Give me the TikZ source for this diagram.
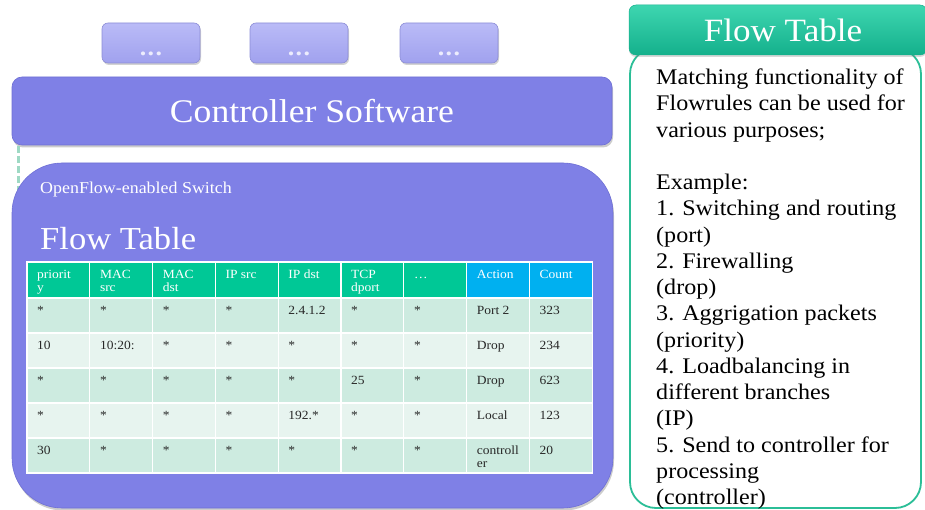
\documentclass[tikz,border=0pt]{standalone}
\usepackage{fontspec}
\setmainfont[FakeStretch=1.08]{Liberation Serif}
\usetikzlibrary{shadows}

\definecolor{boxblue}{RGB}{127,128,230}
\definecolor{boxedge}{RGB}{110,111,212}
\definecolor{apptop}{RGB}{186,187,247}
\definecolor{appbot}{RGB}{160,161,238}
\definecolor{appedge}{RGB}{140,141,214}
\definecolor{appdots}{RGB}{236,236,253}
\definecolor{hdrgreen}{RGB}{0,200,150}
\definecolor{hdrblue}{RGB}{0,176,240}
\definecolor{rowdark}{RGB}{205,235,224}
\definecolor{rowlight}{RGB}{231,244,239}
\definecolor{celltext}{RGB}{40,40,40}
\definecolor{panelgreen}{RGB}{43,190,151}
\definecolor{headtop}{RGB}{62,214,176}
\definecolor{headbot}{RGB}{20,176,140}
\definecolor{linkgreen}{RGB}{158,217,196}

\tikzset{
  appbox/.style={draw=appedge, line width=0.6pt, top color=apptop, bottom color=appbot,
    rounded corners=6pt, minimum width=98pt, minimum height=40pt,
    drop shadow={shadow xshift=1pt, shadow yshift=-2pt, opacity=0.35}},
  dotslabel/.style={text=appdots, font=\fontsize{24}{26}\selectfont\bfseries, inner sep=0pt},
  ctrlbox/.style={draw=boxedge, line width=0.6pt, fill=boxblue, rounded corners=10pt,
    minimum width=600pt, minimum height=68pt, text=white,
    font=\fontsize{33}{38}\selectfont,
    drop shadow={shadow xshift=1pt, shadow yshift=-2.5pt, opacity=0.4}},
  switchbox/.style={draw=boxedge, line width=0.6pt, fill=boxblue, rounded corners=50pt,
    minimum width=601pt, minimum height=345pt,
    drop shadow={shadow xshift=1pt, shadow yshift=-2.5pt, opacity=0.4}},
  link/.style={draw=linkgreen, line width=3pt, dash pattern=on 7pt off 3pt},
  cellbox/.style={draw=white, line width=1.2pt},
  celltxt/.style={anchor=north west, inner sep=0pt, align=left,
    font=\fontsize{12.5}{13}\selectfont},
  panelbody/.style={draw=panelgreen, line width=1.8pt, fill=white, rounded corners=26pt,
    minimum width=291pt, minimum height=460pt},
  panelhead/.style={top color=headtop, bottom color=headbot, draw=headbot, line width=0.5pt,
    rounded corners=7pt, minimum width=298pt, minimum height=50pt, text=white,
    font=\fontsize{32.5}{34}\selectfont,
    drop shadow={shadow xshift=0pt, shadow yshift=-2pt, opacity=0.3}},
  paneltxt/.style={anchor=north west, inner sep=0pt, align=left,
    font=\fontsize{22.3}{26.25}\selectfont}
}

\begin{document}
\begin{tikzpicture}[x=1pt, y=-1pt]
\useasboundingbox (0,0) rectangle (925,510);

% applications on top of the controller
\node[appbox] (app1) at (151,43) {};
\node[appbox] (app2) at (299,43) {};
\node[appbox] (app3) at (449,43) {};
\foreach \a in {1,2,3}
  \node[dotslabel, anchor=base] (dots\a) at ([yshift=8pt]app\a.south) {.\kern1.5pt.\kern1.5pt.};

% controller
\node[ctrlbox] (ctrl) at (312,111) {Controller Software};

% secure channel to the switch
\coordinate (chtop) at (18,146);
\coordinate (chbot) at (18,190);
\draw[link] (chtop) -- (chbot);

% switch
\node[switchbox] (switch) at (312.5,335.5) {};
\node[anchor=base west, inner sep=0pt, text=white, font=\fontsize{16.6}{18}\selectfont]
  (swlabel) at (40,194) {OpenFlow-enabled Switch};
\node[anchor=base west, inner sep=0pt, text=white, font=\fontsize{32}{36}\selectfont]
  (swtitle) at (40,250) {Flow Table};

% flow table header
\foreach [count=\c] \h in {{priorit\\y},{MAC\\src},{MAC\\dst},IP src,IP dst,{TCP\\dport},\ldots,Action,Count} {
  \pgfmathsetmacro\xl{27+(\c-1)*62.8}
  \ifnum\c>7 \def\hc{hdrblue}\else\def\hc{hdrgreen}\fi
  \path[cellbox, fill=\hc] (\xl,262) rectangle ++(62.8,36);
  \node[celltxt, text=white] (h\c) at (\xl+10,269) {\strut\h};
}

% flow table entries
\foreach [count=\r] \rowlist in {
  {*,*,*,*,2.4.1.2,*,*,Port 2,323},
  {10,10:20:,*,*,*,*,*,Drop,234},
  {*,*,*,*,*,25,*,Drop,623},
  {*,*,*,*,192.*,*,*,Local,123},
  {30,*,*,*,*,*,*,{controll\\er},20}} {
  \pgfmathsetmacro\yt{298+(\r-1)*35}
  \ifodd\r \def\rc{rowdark}\else\def\rc{rowlight}\fi
  \foreach [count=\c] \t in \rowlist {
    \pgfmathsetmacro\xl{27+(\c-1)*62.8}
    \path[cellbox, fill=\rc] (\xl,\yt) rectangle ++(62.8,35);
    \node[celltxt, text=celltext] (c\r-\c) at (\xl+10,\yt+7) {\strut\t};
  }
}

% side panel
\node[panelbody] (body) at (775.5,278) {};
\node[panelhead] (head) at (778,30) {\hspace*{10pt}Flow Table};
\node[paneltxt] (desc) at (656,66) {%
\strut Matching functionality of\\
Flowrules can be used for\\
various purposes;\\
\strut\\
Example:\\
1. Switching and routing\\
(port)\\
2. Firewalling\\
(drop)\\
3. Aggrigation packets\\
(priority)\\
4. Loadbalancing in\\
different branches\\
(IP)\\
5. Send to controller for\\
processing\\
(controller)};
\end{tikzpicture}
\end{document}
